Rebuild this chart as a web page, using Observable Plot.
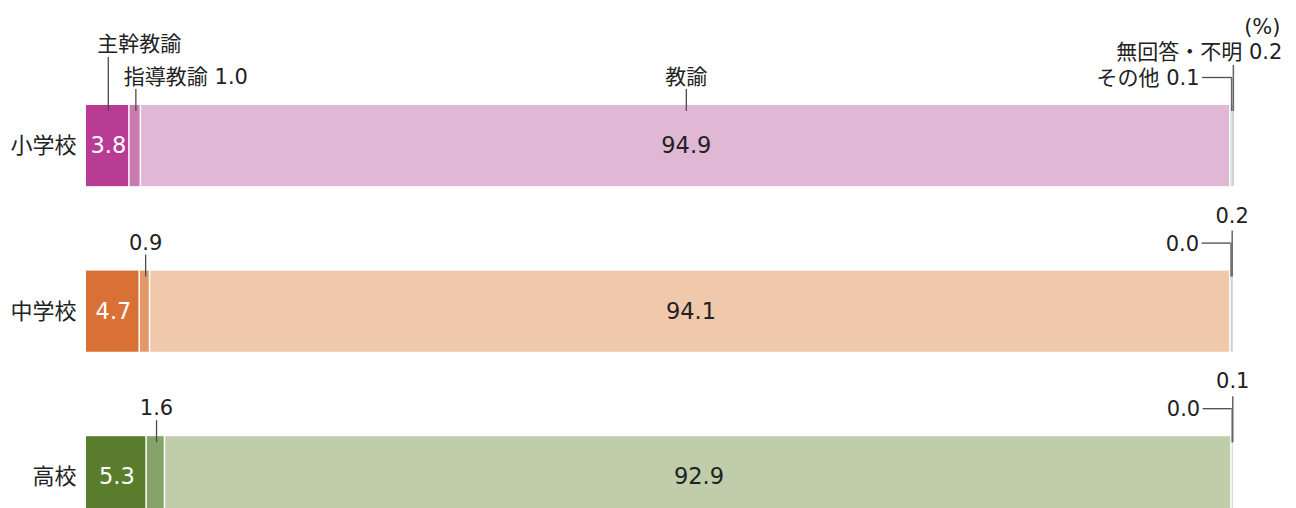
<!DOCTYPE html>
<html><head><meta charset="utf-8">
<script src="https://cdn.jsdelivr.net/npm/d3@7"></script>
<script src="https://cdn.jsdelivr.net/npm/@observablehq/plot@0.6"></script>
<style>body{margin:0;background:#fff}</style>
</head><body><div id="chart"></div>
<script>
// ---- data ----
const schools = ["小学校", "中学校", "高校"];
const categories = ["主幹教諭", "指導教諭", "教諭", "その他", "無回答・不明"];
const shukanKyoyu = [3.8, 4.7, 5.3];
const shidoKyoyu = [1.0, 0.9, 1.6];
const kyoyu = [94.9, 94.1, 92.9];
const sonota = [0.1, 0.0, 0.0];
const mukaito = [0.2, 0.2, 0.1];
const unitLabel = "(%)";

// ---- styles ----
const palette = [
  ["#b83b94", "#ca7bb1", "#e0b8d6"],
  ["#d97036", "#e4986a", "#f0c8ac"],
  ["#597d2d", "#86a468", "#bfcdab"]
];
const grayFill = "#d4d4d4";
const leader = "#4a4a4a";
const ink = "#222";
const font = "'DejaVu Sans', 'Noto Sans CJK JP', sans-serif";

const fmt = d3.format(".1f");
const series = [shukanKyoyu, shidoKyoyu, kyoyu, sonota, mukaito];
const segs = [];
schools.forEach((s, i) => {
  let acc = 0;
  series.forEach((vals, k) => {
    const v = vals[i];
    segs.push({school: s, row: i, k, cat: categories[k], value: v,
      x1: acc, x2: acc + v, mid: acc + v / 2,
      fill: k < 3 ? palette[i][k] : grayFill});
    acc += v;
  });
});
const seg = (k, rows) => segs.filter(d => d.k === k && (!rows || rows.includes(d.row)));
const T = 0.49; // bar thickness as fraction of row step
const LBL = 21, VAL = 22.5, CAT = 22;

const chart = Plot.plot({
  width: 1296, height: 508,
  marginTop: 0, marginRight: 0, marginBottom: 0, marginLeft: 0,
  x: {domain: [0, 100], range: [86, 1234], axis: null},
  y: {domain: [0, 1], range: [105, 270.6], axis: null},
  color: {type: "identity"},
  style: {fontFamily: font, color: ink, background: "white"},
  marks: [
    // bars
    Plot.rect(segs.filter(d => d.k < 3), {x1: "x1", x2: "x2", y1: "row", y2: d => d.row + T, fill: "fill", insetRight: 1.5}),
    Plot.rect(segs.filter(d => d.k >= 3 && d.value > 0), {x1: "x1", x2: "x2", y1: "row", y2: d => d.row + T, fill: "fill"}),
    // values inside bars
    Plot.text(seg(0), {x: "mid", y: "row", dy: 40.5, text: d => fmt(d.value), fill: "white", fontSize: VAL}),
    Plot.text(seg(2), {x: "mid", y: "row", dy: 40.5, text: d => fmt(d.value), fill: ink, fontSize: VAL}),
    // category labels
    Plot.text(schools.map((s, i) => ({s, i})), {x: () => 0, y: "i", dy: 40.5, dx: -10, text: "s", textAnchor: "end", fill: ink, fontSize: CAT}),
    // 主幹教諭 (row 0)
    Plot.ruleX(seg(0, [0]), {x: "mid", y1: "row", y2: "row", insetTop: -48, insetBottom: -6, stroke: leader, strokeWidth: 1.3}),
    Plot.text(seg(0, [0]), {x: "mid", y: "row", dx: 31, dy: -61, text: d => d.cat, fill: ink, fontSize: LBL}),
    // 指導教諭
    Plot.ruleX(seg(1), {x: "mid", y1: "row", y2: "row", insetTop: -16, insetBottom: -6, stroke: leader, strokeWidth: 1.3}),
    Plot.text(seg(1, [0]), {x: "mid", y: "row", dx: -12, dy: -28, textAnchor: "start", text: d => `${d.cat} ${fmt(d.value)}`, fill: ink, fontSize: LBL}),
    Plot.text(seg(1, [1, 2]), {x: "mid", y: "row", dy: -28, text: d => fmt(d.value), fill: ink, fontSize: LBL}),
    // 教諭 (row 0)
    Plot.ruleX(seg(2, [0]), {x: "mid", y1: "row", y2: "row", insetTop: -16, insetBottom: -6, stroke: leader, strokeWidth: 1.3}),
    Plot.text(seg(2, [0]), {x: "mid", y: "row", dy: -28, text: d => d.cat, fill: ink, fontSize: LBL}),
    // その他
    Plot.ruleY(seg(3), {x1: "mid", x2: "mid", y: "row", dy: -28, insetLeft: -29, stroke: leader, strokeWidth: 1.3}),
    Plot.ruleX(seg(3), {x: "mid", y1: "row", y2: "row", insetTop: -28, insetBottom: -6, stroke: "#666", strokeWidth: 1.5}),
    Plot.text(seg(3, [0]), {x: "mid", y: "row", dx: -32, dy: -27, textAnchor: "end", text: d => `${d.cat} ${fmt(d.value)}`, fill: ink, fontSize: LBL}),
    Plot.text(seg(3, [1, 2]), {x: "mid", y: "row", dx: -32, dy: -27, textAnchor: "end", text: d => fmt(d.value), fill: ink, fontSize: LBL}),
    // 無回答・不明
    Plot.ruleX(seg(4), {x: "mid", y1: "row", y2: "row", insetTop: -40, insetBottom: -6, stroke: "#666", strokeWidth: 1.5}),
    Plot.text(seg(4, [0]), {x: "mid", y: "row", dx: 49, dy: -53, textAnchor: "end", text: d => `${d.cat} ${fmt(d.value)}`, fill: ink, fontSize: LBL}),
    Plot.text(seg(4, [1, 2]), {x: "mid", y: "row", dy: -55, text: d => fmt(d.value), fill: ink, fontSize: LBL}),
    // unit
    Plot.text([unitLabel], {frameAnchor: "top-right", dx: -16, dy: 19, textAnchor: "end", text: d => d, fill: ink, fontSize: LBL})
  ]
});
document.getElementById("chart").append(chart);
</script>
</body></html>
